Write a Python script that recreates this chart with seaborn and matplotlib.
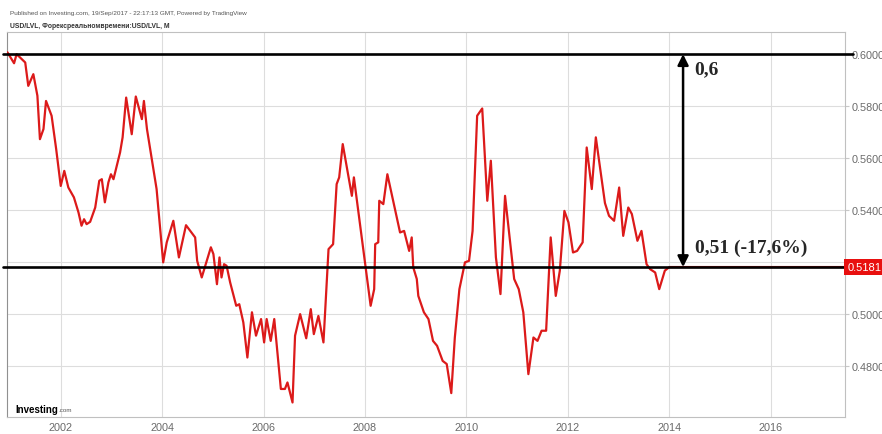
import pandas as pd
import seaborn as sns
from matplotlib import pyplot as plt
from matplotlib import transforms

# USD/LVL, monthly closes (decimal years)
years = [
    2000.95, 2001.08, 2001.13, 2001.30, 2001.36, 2001.46, 2001.54, 2001.59, 2001.66, 2001.71,
    2001.82, 2001.91, 2002.00, 2002.07, 2002.15, 2002.26, 2002.35, 2002.41, 2002.46, 2002.51,
    2002.58, 2002.68, 2002.76, 2002.81, 2002.87, 2002.94, 2002.99, 2003.04, 2003.17, 2003.22,
    2003.29, 2003.40, 2003.48, 2003.60, 2003.64, 2003.70, 2003.89, 2004.02, 2004.09, 2004.22,
    2004.33, 2004.47, 2004.65, 2004.69, 2004.78, 2004.96, 2005.01, 2005.08, 2005.13, 2005.17,
    2005.22, 2005.27, 2005.34, 2005.46, 2005.52, 2005.60, 2005.68, 2005.77, 2005.85, 2005.95,
    2006.01, 2006.06, 2006.14, 2006.21, 2006.34, 2006.42, 2006.47, 2006.57, 2006.62, 2006.72,
    2006.84, 2006.93, 2006.99, 2007.08, 2007.18, 2007.28, 2007.37, 2007.44, 2007.49, 2007.56,
    2007.74, 2007.78, 2008.11, 2008.18, 2008.20, 2008.26, 2008.28, 2008.36, 2008.44, 2008.69,
    2008.77, 2008.87, 2008.92, 2008.95, 2009.02, 2009.05, 2009.16, 2009.25, 2009.34, 2009.42,
    2009.53, 2009.61, 2009.70, 2009.77, 2009.86, 2009.97, 2010.05, 2010.12, 2010.21, 2010.31,
    2010.41, 2010.48, 2010.58, 2010.67, 2010.76, 2010.94, 2011.03, 2011.12, 2011.22, 2011.32,
    2011.40, 2011.48, 2011.57, 2011.66, 2011.76, 2011.84, 2011.93, 2012.01, 2012.10, 2012.18,
    2012.29, 2012.37, 2012.47, 2012.55, 2012.73, 2012.81, 2012.91, 2013.01, 2013.09, 2013.19,
    2013.26, 2013.37, 2013.45, 2013.55, 2013.62, 2013.72, 2013.80, 2013.91, 2014.00, 2017.70,
]
rates = [
    0.6007, 0.5965, 0.6000, 0.5968, 0.5878, 0.5923, 0.5840, 0.5673, 0.5712, 0.5820,
    0.5763, 0.5635, 0.5493, 0.5551, 0.5487, 0.5449, 0.5391, 0.5340, 0.5365, 0.5346,
    0.5355, 0.5410, 0.5513, 0.5519, 0.5430, 0.5507, 0.5538, 0.5519, 0.5622, 0.5680,
    0.5833, 0.5692, 0.5837, 0.5750, 0.5820, 0.5712, 0.5481, 0.5199, 0.5276, 0.5359,
    0.5218, 0.5342, 0.5295, 0.5205, 0.5141, 0.5257, 0.5231, 0.5115, 0.5218, 0.5141,
    0.5192, 0.5186, 0.5122, 0.5032, 0.5038, 0.4968, 0.4833, 0.5007, 0.4917, 0.4981,
    0.4891, 0.4981, 0.4897, 0.4981, 0.4712, 0.4712, 0.4737, 0.4660, 0.4917, 0.5000,
    0.4907, 0.5019, 0.4923, 0.4993, 0.4891, 0.5250, 0.5269, 0.5500, 0.5526, 0.5654,
    0.5455, 0.5526, 0.5032, 0.5096, 0.5269, 0.5276, 0.5436, 0.5423, 0.5538, 0.5314,
    0.5320, 0.5243, 0.5295, 0.5180, 0.5135, 0.5070, 0.5007, 0.4981, 0.4897, 0.4878,
    0.4820, 0.4808, 0.4696, 0.4910, 0.5096, 0.5199, 0.5205, 0.5320, 0.5763, 0.5791,
    0.5436, 0.5590, 0.5218, 0.5077, 0.5455, 0.5135, 0.5096, 0.5007, 0.4769, 0.4910,
    0.4897, 0.4936, 0.4936, 0.5295, 0.5070, 0.5167, 0.5397, 0.5353, 0.5237, 0.5243,
    0.5276, 0.5641, 0.5481, 0.5680, 0.5427, 0.5378, 0.5359, 0.5487, 0.5301, 0.5410,
    0.5385, 0.5282, 0.5320, 0.5192, 0.5173, 0.5160, 0.5096, 0.5167, 0.5181, 0.5181,
]
year_ticks = [2002, 2004, 2006, 2008, 2010, 2012, 2014, 2016]
rate_ticks = [0.48, 0.50, 0.52, 0.54, 0.56, 0.58, 0.60]

top_level = 0.60
last_price = 0.5181

df = pd.DataFrame({"year": years, "rate": rates})

sns.set_style("white")
plt.rcParams["font.family"] = ["Liberation Sans", "DejaVu Sans"]

fig = plt.figure(figsize=(8.82, 4.35), dpi=100)
ax = fig.add_axes([0.0079, 0.039, 0.950, 0.885])

sns.lineplot(data=df, x="year", y="rate", color="#dc1a1a", linewidth=1.6, ax=ax, zorder=3)

ax.set_xlim(2000.94, 2017.46)
ax.set_ylim(0.4604, 0.6085)
ax.set_xticks(year_ticks)
ax.set_xticklabels([str(y) for y in year_ticks])
ax.set_yticks(rate_ticks)
ax.set_yticklabels([f"{v:.4f}" for v in rate_ticks])
ax.yaxis.tick_right()
ax.set_xlabel("")
ax.set_ylabel("")
ax.grid(True, color="#dddddd", linewidth=0.8)
ax.tick_params(axis="both", colors="#c8c8c8", labelcolor="#6a6a6a", labelsize=7.8, length=3, width=0.8)
ax.tick_params(axis="x", pad=0.5)
ax.tick_params(axis="y", pad=2)
for side in ax.spines.values():
    side.set_color("#c0c0c0")
    side.set_linewidth(0.8)
ax.spines["left"].set_color("#909090")

# support / resistance lines
for level in (top_level, last_price):
    ax.axhline(level, xmin=-0.005, xmax=1.01, color="black", linewidth=1.9, zorder=4, clip_on=False)

# price label on the right axis
trans = transforms.blended_transform_factory(ax.transAxes, ax.transData)
ax.text(1.003, last_price, "0.5181", transform=trans, color="white", fontsize=8,
        va="center", ha="left", clip_on=False, zorder=6,
        bbox=dict(boxstyle="square,pad=0.3", facecolor="#e8100f", edgecolor="none"))

# double arrow with annotations
ax.annotate("", xy=(2014.27, top_level), xytext=(2014.27, last_price),
            arrowprops=dict(arrowstyle="<|-|>", color="black", lw=1.8,
                            mutation_scale=16, shrinkA=0, shrinkB=0), zorder=5)
ax.text(2014.50, 0.5942, "0,6", family="Liberation Serif", weight="bold", fontsize=14,
        va="center", ha="left", zorder=5)
ax.text(2014.50, 0.5258, "0,51 (-17,6%)", family="Liberation Serif", weight="bold", fontsize=14,
        va="center", ha="left", zorder=5)

# header and watermark
fig.text(10 / 882, 1 - 14 / 435, "Published on Investing.com, 19/Sep/2017 - 22:17:13 GMT, Powered by TradingView",
         fontsize=4.6, color="#555555", va="center")
fig.text(10 / 882, 1 - 26 / 435, "USD/LVL, Форексреальномвремени:USD/LVL, M",
         fontsize=4.9, color="#333333", weight="bold", va="center")
fig.text(15 / 882, 1 - 410 / 435, "Investing", fontsize=7, weight="bold", color="black", va="center")
fig.text(58 / 882, 1 - 411 / 435, ".com", fontsize=4.5, color="#555555", va="center")

fig.savefig("out.png", dpi=100)
